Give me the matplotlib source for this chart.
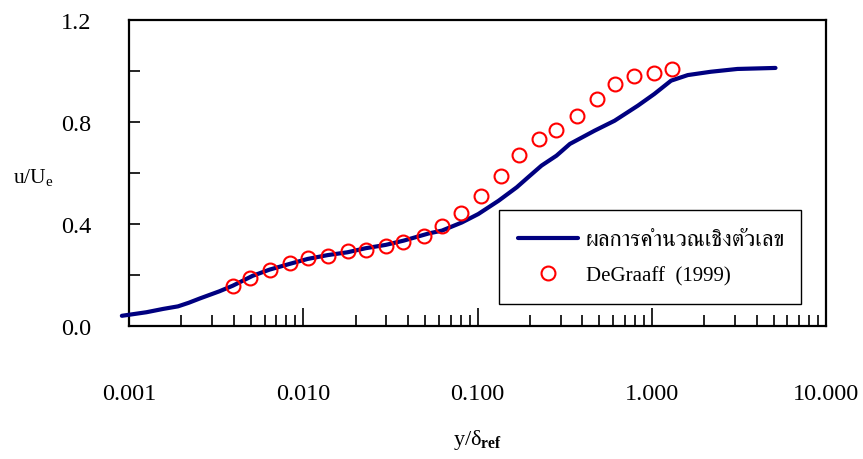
import matplotlib
matplotlib.use("Agg")
import matplotlib.pyplot as plt
from matplotlib import font_manager
from matplotlib.ft2font import FT2Font
from matplotlib.ticker import FixedLocator, LogLocator, NullFormatter, FuncFormatter
import numpy as np

# Numerical result (velocity profile)
calc_y = [0.00091, 0.00126, 0.00157, 0.00191, 0.0022, 0.00255, 0.0033, 0.00394, 0.00513,
          0.0064, 0.0083, 0.0106, 0.0138, 0.0179, 0.0228, 0.0297, 0.0378, 0.0525,
          0.0625, 0.0813, 0.101, 0.132, 0.168, 0.195, 0.233, 0.284, 0.339, 0.47,
          0.612, 0.832, 1.035, 1.29, 1.61, 2.18, 3.1, 5.13]
calc_u = [0.040, 0.054, 0.067, 0.077, 0.091, 0.108, 0.136, 0.158, 0.197,
          0.221, 0.243, 0.263, 0.278, 0.289, 0.305, 0.318, 0.335, 0.363,
          0.374, 0.406, 0.439, 0.491, 0.544, 0.583, 0.629, 0.668, 0.714, 0.766,
          0.805, 0.864, 0.910, 0.962, 0.984, 0.997, 1.008, 1.012]

# DeGraaff (1999) measurements
exp_y = [0.00394, 0.00496, 0.00645, 0.0084, 0.0107, 0.0139, 0.018, 0.0228,
         0.0297, 0.0374, 0.0491, 0.0625, 0.0803, 0.1045, 0.136, 0.173, 0.225,
         0.284, 0.373, 0.485, 0.612, 0.796, 1.035, 1.306]
exp_u = [0.156, 0.189, 0.221, 0.246, 0.267, 0.276, 0.293, 0.299,
         0.315, 0.331, 0.352, 0.393, 0.442, 0.511, 0.589, 0.671, 0.733,
         0.770, 0.825, 0.890, 0.949, 0.982, 0.992, 1.008]

x_ticks = [0.001, 0.01, 0.1, 1.0, 10.0]
y_ticks = [0.0, 0.4, 0.8, 1.2]

label_calc = "ผลการคำนวณเชิงตัวเลข"
label_exp = "DeGraaff  (1999)"

SERIF = "Liberation Serif"


def find_thai_family():
    """Return the name of an installed font that covers Thai script."""
    preferred = []
    others = []
    for fe in font_manager.fontManager.ttflist:
        try:
            cmap = FT2Font(fe.fname).get_charmap()
        except Exception:
            continue
        if ord("ผ") in cmap and ord("ำ") in cmap:
            if "serif" in fe.name.lower() and "sans" not in fe.name.lower():
                preferred.append(fe.name)
            else:
                others.append(fe.name)
    for group in (preferred, others):
        if group:
            return group[0]
    return None


thai_family = find_thai_family()

plt.rcParams["font.family"] = [SERIF, "DejaVu Serif"]
plt.rcParams["mathtext.fontset"] = "custom"
plt.rcParams["mathtext.rm"] = SERIF
plt.rcParams["mathtext.it"] = SERIF + ":italic"
plt.rcParams["mathtext.bf"] = SERIF + ":bold"

fig = plt.figure(figsize=(8.63, 4.60), dpi=100)
ax = fig.add_axes([129 / 863, 1 - 327 / 460, (826 - 129) / 863, (327 - 21) / 460])

navy = "#000080"
ax.plot(calc_y, calc_u, color=navy, lw=3.0, solid_capstyle="round",
        solid_joinstyle="round", clip_on=False, zorder=3, label=label_calc)
ax.plot(exp_y, exp_u, ls="none", marker="o", ms=10, mfc="none", mec="#ff0000",
        mew=1.5, zorder=4, label=label_exp)

ax.set_xscale("log")
ax.set_xlim(0.001, 10)
ax.set_ylim(0, 1.2)

ax.xaxis.set_major_locator(FixedLocator(x_ticks))
ax.xaxis.set_major_formatter(FuncFormatter(lambda v, p: f"{v:.3f}"))
ax.xaxis.set_minor_locator(LogLocator(base=10, subs=np.arange(2, 10)))
ax.xaxis.set_minor_formatter(NullFormatter())

ax.yaxis.set_major_locator(FixedLocator(y_ticks))
ax.yaxis.set_major_formatter(FuncFormatter(lambda v, p: f"{v:.1f}"))
ax.yaxis.set_minor_locator(FixedLocator([0.2, 0.6, 1.0]))

ax.tick_params(axis="both", which="both", direction="in", top=False, right=False,
               width=1.2, colors="black")
ax.tick_params(axis="x", which="major", length=13, pad=41, labelsize=17.5)
ax.tick_params(axis="x", which="minor", length=8)
ax.tick_params(axis="y", which="both", length=8, pad=27, labelsize=17.5)

for s in ax.spines.values():
    s.set_linewidth(1.6)
    s.set_color("black")

ax.set_ylabel(r"u/U$_\mathregular{e}$", rotation=0, fontsize=15.5, ha="center", va="center")
ax.yaxis.set_label_coords(-0.137, 0.49)
ax.set_xlabel(r"y/δ$_\mathbf{ref}$", fontsize=16, va="center")
ax.xaxis.set_label_coords(0.5, -0.37)

leg = ax.legend(loc="lower left", bbox_to_anchor=(0.531, 0.072, 0.433, 0.314),
                mode="expand", fontsize=15, frameon=True, fancybox=False,
                edgecolor="black", framealpha=1, handlelength=2.9,
                handletextpad=0.35, labelspacing=0.75, borderpad=0.9,
                borderaxespad=0)
leg.get_frame().set_linewidth(1.0)
if thai_family:
    leg.get_texts()[0].set_fontfamily([thai_family, SERIF])
    leg.get_texts()[0].set_fontsize(16.5)

fig.savefig("out.png", dpi=100)
